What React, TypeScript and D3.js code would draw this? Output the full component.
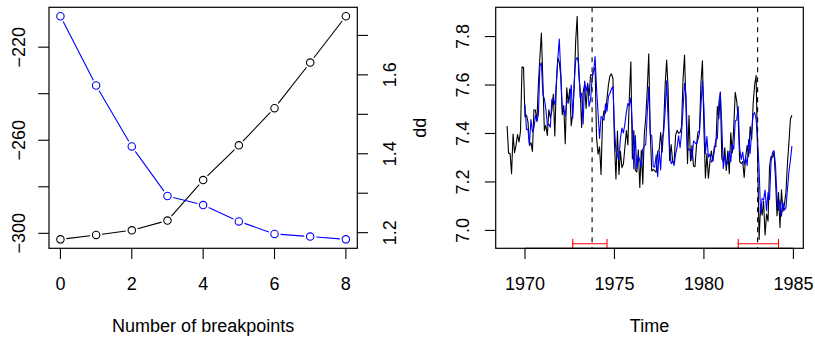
import React from 'react';
import * as d3 from 'd3';

// ---- Left panel: BIC and RSS by number of breakpoints ----
const breakCounts = [0, 1, 2, 3, 4, 5, 6, 7, 8];
const bicValues = [-302.6, -300.7, -298.7, -294.5, -277.1, -262.2, -246.2, -226.6, -206.7];
const rssValues = [1.7486, 1.573, 1.4185, 1.293, 1.27, 1.2286, 1.1967, 1.19, 1.183];
const leftXTicks = [0, 2, 4, 6, 8];
const bicTicks = [-300, -280, -260, -240, -220];
const bicLabels = [-300, -260, -220];
const rssTicks = [1.2, 1.3, 1.4, 1.5, 1.6, 1.7];
const rssLabels = [1.2, 1.4, 1.6];

// ---- Right panel: dd (monthly, from 1969) and fitted values (from 1970) ----
const ddStart = 1969;
const ddValues = [
  7.431, 7.319, 7.318, 7.234, 7.398, 7.321, 7.352, 7.396, 7.365, 7.410, 7.674, 7.673,
  7.468, 7.476, 7.448, 7.351, 7.362, 7.326, 7.498, 7.496, 7.450, 7.605, 7.715, 7.815,
  7.616, 7.412, 7.434, 7.392, 7.498, 7.465, 7.493, 7.563, 7.390, 7.597, 7.711, 7.693,
  7.640, 7.478, 7.515, 7.358, 7.589, 7.525, 7.583, 7.432, 7.483, 7.589, 7.782, 7.884,
  7.648, 7.582, 7.425, 7.571, 7.602, 7.503, 7.607, 7.556, 7.642, 7.640, 7.658, 7.674,
  7.383, 7.315, 7.345, 7.231, 7.457, 7.494, 7.484, 7.543, 7.603, 7.639, 7.646, 7.626,
  7.363, 7.212, 7.410, 7.231, 7.326, 7.259, 7.274, 7.342, 7.412, 7.353, 7.552, 7.696,
  7.295, 7.412, 7.249, 7.241, 7.333, 7.177, 7.331, 7.191, 7.395, 7.466, 7.580, 7.729,
  7.407, 7.245, 7.252, 7.246, 7.240, 7.326, 7.332, 7.404, 7.323, 7.430, 7.601, 7.703,
  7.579, 7.288, 7.354, 7.286, 7.277, 7.392, 7.413, 7.401, 7.404, 7.428, 7.626, 7.724,
  7.503, 7.276, 7.474, 7.287, 7.350, 7.266, 7.263, 7.349, 7.406, 7.410, 7.609, 7.700,
  7.418, 7.216, 7.317, 7.215, 7.282, 7.328, 7.286, 7.347, 7.345, 7.511, 7.460, 7.571,
  7.296, 7.285, 7.341, 7.247, 7.328, 7.234, 7.403, 7.320, 7.427, 7.570, 7.533, 7.454,
  7.284, 7.276, 7.284, 7.219, 7.305, 7.351, 7.305, 7.429, 7.374, 7.523, 7.600, 7.640,
  7.309, 6.963, 7.105, 7.063, 7.120, 6.981, 7.068, 7.038, 7.263, 7.305, 7.302, 7.322,
  7.213, 7.061, 7.156, 7.012, 7.168, 7.078, 7.108, 7.158, 7.275, 7.362, 7.460, 7.475,
];
const fittedStart = 1970;
const fittedValues = [
  7.519, 7.417, 7.417, 7.355, 7.458, 7.406, 7.423, 7.474, 7.452, 7.478, 7.680, 7.692,
  7.561, 7.543, 7.500, 7.435, 7.438, 7.426, 7.541, 7.542, 7.519, 7.606, 7.707, 7.790,
  7.649, 7.501, 7.498, 7.473, 7.529, 7.533, 7.544, 7.600, 7.462, 7.612, 7.703, 7.713,
  7.689, 7.548, 7.566, 7.439, 7.616, 7.575, 7.604, 7.512, 7.541, 7.625, 7.655, 7.718,
  7.586, 7.485, 7.380, 7.470, 7.463, 7.455, 7.523, 7.492, 7.554, 7.566, 7.584, 7.594,
  7.424, 7.328, 7.312, 7.290, 7.380, 7.422, 7.402, 7.439, 7.488, 7.524, 7.515, 7.547,
  7.428, 7.254, 7.392, 7.255, 7.307, 7.289, 7.263, 7.336, 7.346, 7.356, 7.486, 7.593,
  7.396, 7.392, 7.264, 7.261, 7.312, 7.222, 7.328, 7.250, 7.382, 7.405, 7.494, 7.617,
  7.455, 7.335, 7.275, 7.286, 7.268, 7.315, 7.343, 7.390, 7.341, 7.402, 7.505, 7.607,
  7.557, 7.342, 7.331, 7.335, 7.289, 7.369, 7.362, 7.355, 7.376, 7.402, 7.516, 7.615,
  7.508, 7.317, 7.387, 7.302, 7.315, 7.282, 7.290, 7.330, 7.376, 7.378, 7.528, 7.569,
  7.432, 7.256, 7.312, 7.266, 7.283, 7.327, 7.283, 7.355, 7.335, 7.453, 7.456, 7.511,
  7.336, 7.293, 7.323, 7.271, 7.303, 7.268, 7.375, 7.318, 7.406, 7.476, 7.487, 7.459,
  7.370, 7.255, 7.067, 7.131, 7.126, 7.167, 7.081, 7.156, 7.127, 7.283, 7.322, 7.329,
  7.269, 7.135, 7.082, 7.126, 7.059, 7.114, 7.084, 7.094, 7.169, 7.242, 7.290, 7.348,
];
const breakTimes = [1973.75, 1983.0];
const ciLower = [1972.667, 1981.917];
const ciUpper = [1974.583, 1984.167];
const yearTicks = [1970, 1975, 1980, 1985];
const ddTicks = [7.0, 7.2, 7.4, 7.6, 7.8];

const FONT = '"Liberation Sans", Arial, Helvetica, sans-serif';
const FS = 18;
const TOP = 7.3;
const BOTTOM = 248.3;
const LEFT_BOX = [49, 357.3];
const RIGHT_BOX = [495.7, 803.3];
const TICK = 10.8;

function padRange(vals: number[]): [number, number] {
  const [lo, hi] = d3.extent(vals) as [number, number];
  const p = (hi - lo) * 0.04;
  return [lo - p, hi + p];
}

const minus = (s: string) => s.replace('-', '\u2212');

function gappedSegments(pts: [number, number][], gap: number) {
  const segs: string[] = [];
  for (let i = 0; i < pts.length - 1; i++) {
    const [x1, y1] = pts[i];
    const [x2, y2] = pts[i + 1];
    const dx = x2 - x1, dy = y2 - y1;
    const len = Math.hypot(dx, dy);
    if (len <= 2 * gap) continue;
    const ux = dx / len, uy = dy / len;
    segs.push(`M${x1 + ux * gap},${y1 + uy * gap}L${x2 - ux * gap},${y2 - uy * gap}`);
  }
  return segs.join('');
}

export default function App() {
  // Left panel scales
  const lx = d3.scaleLinear().domain(padRange(breakCounts)).range(LEFT_BOX);
  const ly = d3.scaleLinear().domain(padRange(bicValues)).range([BOTTOM, TOP]);
  const ly2 = d3.scaleLinear().domain(padRange(rssValues)).range([BOTTOM, TOP]);

  const bicPts = breakCounts.map((k, i) => [lx(k), ly(bicValues[i])] as [number, number]);
  const rssPts = breakCounts.map((k, i) => [lx(k), ly2(rssValues[i])] as [number, number]);

  // Right panel scales
  const ddTimes = ddValues.map((_, i) => ddStart + i / 12);
  const fitTimes = fittedValues.map((_, i) => fittedStart + i / 12);
  const rx = d3.scaleLinear().domain(padRange(ddTimes)).range(RIGHT_BOX);
  const ry = d3.scaleLinear().domain(padRange(ddValues)).range([BOTTOM, TOP]);

  const ddLine = d3.line<number>().x((_, i) => rx(ddTimes[i])).y((v) => ry(v));
  const fitLine = d3.line<number>().x((_, i) => rx(fitTimes[i])).y((v) => ry(v));

  const ciY = BOTTOM - 4.6;

  return (
    <svg width={815} height={340} style={{ position: 'absolute', left: 0, top: 0, background: '#fff' }}
      fontFamily={FONT} fontSize={FS}>
      <rect x={0} y={0} width={815} height={340} fill="#fff" />
      {/* ===== Left panel ===== */}
      <path d={gappedSegments(bicPts, 6)} stroke="#000" strokeWidth={1.1} fill="none" />
      <path d={gappedSegments(rssPts, 6)} stroke="#0000ff" strokeWidth={1.1} fill="none" />
      {bicPts.map(([x, y], i) => (
        <circle key={'b' + i} cx={x} cy={y} r={3.7} fill="none" stroke="#000" strokeWidth={1.1} />
      ))}
      {rssPts.map(([x, y], i) => (
        <circle key={'r' + i} cx={x} cy={y} r={3.7} fill="none" stroke="#0000ff" strokeWidth={1.1} />
      ))}
      <rect x={LEFT_BOX[0]} y={TOP} width={LEFT_BOX[1] - LEFT_BOX[0]} height={BOTTOM - TOP}
        fill="none" stroke="#000" strokeWidth={1.2} />
      {/* bottom axis */}
      <line x1={lx(leftXTicks[0])} x2={lx(leftXTicks[leftXTicks.length - 1])} y1={BOTTOM + 0} y2={BOTTOM + 0} stroke="none" />
      {leftXTicks.map((t) => (
        <g key={'lx' + t}>
          <line x1={lx(t)} x2={lx(t)} y1={BOTTOM} y2={BOTTOM + TICK} stroke="#000" strokeWidth={1.1} />
          <text x={lx(t)} y={290} textAnchor="middle">{t}</text>
        </g>
      ))}
      <text x={(LEFT_BOX[0] + LEFT_BOX[1]) / 2} y={332} textAnchor="middle">Number of breakpoints</text>
      {/* left axis (BIC) */}
      {bicTicks.map((t) => (
        <line key={'bt' + t} x1={LEFT_BOX[0] - TICK} x2={LEFT_BOX[0]} y1={ly(t)} y2={ly(t)} stroke="#000" strokeWidth={1.1} />
      ))}
      {bicLabels.map((t) => (
        <text key={'bl' + t} transform={`translate(25.2,${ly(t)}) rotate(-90)`} textAnchor="middle">{minus(String(t))}</text>
      ))}
      {/* right axis (RSS) */}
      {rssTicks.map((t) => (
        <line key={'rt' + t} x1={LEFT_BOX[1]} x2={LEFT_BOX[1] + TICK} y1={ly2(t)} y2={ly2(t)} stroke="#000" strokeWidth={1.1} />
      ))}
      {rssLabels.map((t) => (
        <text key={'rl' + t} transform={`translate(396.2,${ly2(t)}) rotate(-90)`} textAnchor="middle">{d3.format('.1f')(t)}</text>
      ))}

      {/* ===== Right panel ===== */}
      <path d={ddLine(ddValues) || ''} stroke="#000" strokeWidth={1.1} fill="none" strokeLinejoin="round" />
      <path d={fitLine(fittedValues) || ''} stroke="#0000ff" strokeWidth={1.1} fill="none" strokeLinejoin="round" />
      {breakTimes.map((t) => (
        <line key={'bk' + t} x1={rx(t)} x2={rx(t)} y1={TOP} y2={BOTTOM} stroke="#000" strokeWidth={1.1} strokeDasharray="5,5" />
      ))}
      {ciLower.map((lo, i) => (
        <g key={'ci' + i} stroke="#ff0000" strokeWidth={1.1}>
          <line x1={rx(lo)} x2={rx(ciUpper[i])} y1={ciY} y2={ciY} />
          <line x1={rx(lo)} x2={rx(lo)} y1={ciY - 4.8} y2={ciY + 4.8} />
          <line x1={rx(ciUpper[i])} x2={rx(ciUpper[i])} y1={ciY - 4.8} y2={ciY + 4.8} />
        </g>
      ))}
      <rect x={RIGHT_BOX[0]} y={TOP} width={RIGHT_BOX[1] - RIGHT_BOX[0]} height={BOTTOM - TOP}
        fill="none" stroke="#000" strokeWidth={1.2} />
      {yearTicks.map((t) => (
        <g key={'yt' + t}>
          <line x1={rx(t)} x2={rx(t)} y1={BOTTOM} y2={BOTTOM + TICK} stroke="#000" strokeWidth={1.1} />
          <text x={rx(t)} y={290} textAnchor="middle">{t}</text>
        </g>
      ))}
      <line x1={rx(yearTicks[0])} x2={rx(yearTicks[yearTicks.length - 1])} y1={BOTTOM} y2={BOTTOM} stroke="#000" strokeWidth={1.1} />
      <text x={(RIGHT_BOX[0] + RIGHT_BOX[1]) / 2} y={332} textAnchor="middle">Time</text>
      {ddTicks.map((t) => (
        <g key={'dt' + t}>
          <line x1={RIGHT_BOX[0] - TICK} x2={RIGHT_BOX[0]} y1={ry(t)} y2={ry(t)} stroke="#000" strokeWidth={1.1} />
          <text transform={`translate(469.3,${ry(t)}) rotate(-90)`} textAnchor="middle">{d3.format('.1f')(t)}</text>
        </g>
      ))}
      <text transform={`translate(425.7,${(TOP + BOTTOM) / 2}) rotate(-90)`} textAnchor="middle">dd</text>
    </svg>
  );
}
